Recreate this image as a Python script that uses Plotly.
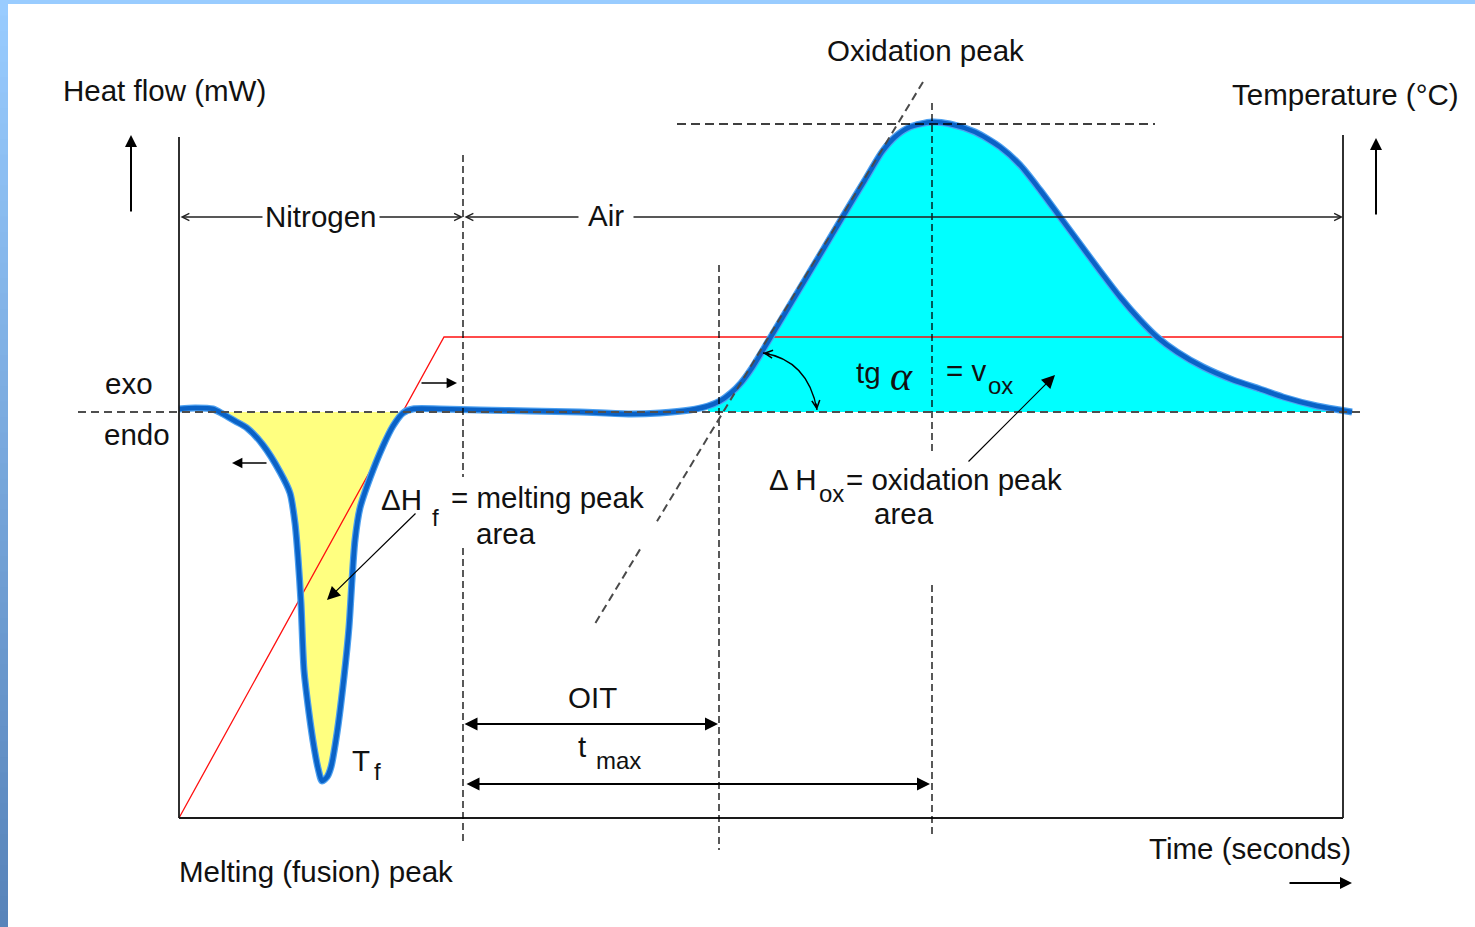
import numpy as np
import plotly.graph_objects as go

# ---------------------------------------------------------------------------
# DSC / OIT schematic: heat-flow signal and furnace temperature programme.
# Time in arbitrary seconds, heat flow in arbitrary mW (0 = baseline, exo up).
# ---------------------------------------------------------------------------
time_s = np.array([
    0, 16, 34, 44, 56, 68, 84, 101, 111, 116, 119, 122, 125, 130, 135, 139,
    143, 148, 152, 158, 165, 170, 173, 176, 181, 191, 204, 214, 224, 234,
    261, 301, 351, 401, 451, 481, 511, 529, 541, 552, 562, 573, 584, 599,
    614, 629, 644, 663, 686, 703, 716, 731, 753, 771, 796, 821, 841, 861,
    881, 901, 921, 941, 961, 978, 998, 1024, 1054, 1081, 1104, 1138, 1161,
    1173,
])
heat_flow = np.array([
    3, 4, 3, -2, -9, -16, -33, -60, -81, -111, -145, -191, -258, -301, -335,
    -356, -369, -365, -355, -321, -265, -215, -168, -128, -96, -66, -34, -14,
    -1, 3, 3, 2, 1, 0, -2, -1, 2, 6, 11, 19, 29, 44, 62, 87, 112, 137, 162,
    194, 232, 260, 275, 285, 290, 288, 280, 265, 247, 222, 195, 168, 141, 115,
    92, 75, 60, 45, 32, 23, 15, 6, 2, 0,
])

# Temperature programme: heating ramp under nitrogen, then isothermal in air
temp_time = [0, 265, 1164]
temp_level = [-406, 75, 75]

# Event times
t_end = 1164          # end of the run (right frame)
t_gas_switch = 284    # nitrogen -> air
t_onset = 540         # oxidation onset (OIT)
t_peak = 753          # oxidation peak maximum
peak_level = 288      # heat flow at the oxidation maximum

# Integration windows for the two peak areas
melt_mask = (time_s >= 34) & (time_s <= 234)
ox_mask = time_s >= 529

FONT = "Liberation Sans"
SIZE = 29.5
SUB = 24
BLUE = "#0A62C6"

fig = go.Figure()

# peak areas
fig.add_trace(go.Scatter(
    x=time_s[melt_mask], y=heat_flow[melt_mask], mode="lines",
    line=dict(width=0, shape="spline", smoothing=0.7),
    fill="tozeroy", fillcolor="#FFFF80", hoverinfo="skip"))
fig.add_trace(go.Scatter(
    x=time_s[ox_mask], y=heat_flow[ox_mask], mode="lines",
    line=dict(width=0, shape="spline", smoothing=0.7),
    fill="tozeroy", fillcolor="#00FFFF", hoverinfo="skip"))

# temperature programme
fig.add_trace(go.Scatter(
    x=temp_time, y=temp_level, mode="lines",
    line=dict(color="#FF1010", width=1.3), hoverinfo="skip"))

# heat-flow signal (soft edge + core)
fig.add_trace(go.Scatter(
    x=time_s, y=heat_flow, mode="lines",
    line=dict(color="#4DA0F0", width=7, shape="spline", smoothing=0.7),
    hoverinfo="skip"))
fig.add_trace(go.Scatter(
    x=time_s, y=heat_flow, mode="lines",
    line=dict(color=BLUE, width=4.6, shape="spline", smoothing=0.7),
    hoverinfo="skip"))

shapes = []


def seg(x0, y0, x1, y1, color="black", width=1.3, dash=None):
    shapes.append(dict(type="line", xref="x", yref="y", x0=x0, y0=y0,
                       x1=x1, y1=y1, layer="above",
                       line=dict(color=color, width=width, dash=dash)))


# baseline
seg(-101, 0, 1186, 0, color="#4E4E4E", width=2.2, dash="8px,5px")

# frame
seg(0, 275, 0, -406, color="#1A1A1A", width=1.8)
seg(0, -406, t_end, -406, color="#1A1A1A", width=1.8)
seg(t_end, 277, t_end, -406, color="#1A1A1A", width=1.8)

# event markers
seg(t_gas_switch, 257, t_gas_switch, -65, dash="7px,4px")
seg(t_gas_switch, -136, t_gas_switch, -433, dash="7px,4px")
seg(t_onset, 147, t_onset, -438, dash="7px,4px")
seg(t_peak, 309, t_peak, -43, dash="7px,4px")
seg(t_peak, -173, t_peak, -423, dash="7px,4px")
seg(498, peak_level, 976, peak_level, width=1.4, dash="9px,5px")

# tangent to the rising oxidation edge
slope = (330 + 215) / (744 - 414)
seg(744, 330, 478, 330 - (744 - 478) * slope, color="#4A4A4A", width=2,
    dash="8px,5px")
seg(461, 330 - (744 - 461) * slope, 414, -215, color="#4A4A4A", width=2,
    dash="8px,5px")

# angle arc between tangent and baseline
shapes.append(dict(type="path", xref="x", yref="y", layer="above",
                   path="M 584 59 Q 629 52 638 2",
                   line=dict(color="black", width=1.3)))

# window frame: light blue top bar, gradient left bar
shapes.append(dict(type="rect", xref="paper", yref="paper", x0=0, x1=1,
                   y0=1 - 4 / 927, y1=1, fillcolor="#99CCFF",
                   line=dict(width=0), layer="above"))
n_strip = 60
c_top = np.array([153, 204, 255])
c_bot = np.array([88, 132, 186])
for i in range(n_strip):
    f = i / (n_strip - 1)
    c = (c_top * (1 - f) + c_bot * f).astype(int)
    shapes.append(dict(type="rect", xref="paper", yref="paper",
                       x0=0, x1=8 / 1475,
                       y0=1 - (i + 1) / n_strip - 0.002, y1=1 - i / n_strip,
                       fillcolor=f"rgb({c[0]},{c[1]},{c[2]})",
                       line=dict(width=0), layer="above"))

annotations = []


def text(x, y, s, size=SIZE, xanchor="center", yanchor="middle", family=FONT,
         bg=None, pad=2):
    a = dict(x=x, y=y, xref="x", yref="y", text=s, showarrow=False,
             xanchor=xanchor, yanchor=yanchor,
             font=dict(family=family, size=size, color="#111111"))
    if bg:
        a.update(bgcolor=bg, borderpad=pad)
    annotations.append(a)


def arrow(x, y, ax, ay, head=2, size=1.0, width=1.5, both=False,
          color="black"):
    a = dict(x=x, y=y, ax=ax, ay=ay, xref="x", yref="y", axref="x",
             ayref="y", text="", showarrow=True, arrowhead=head,
             arrowsize=size, arrowwidth=width, arrowcolor=color)
    if both:
        a.update(arrowside="end+start", startarrowhead=head,
                 startarrowsize=size)
    annotations.append(a)


# gas atmosphere spans
arrow(t_gas_switch, 195, 0, 195, head=5, size=1.1, width=1.3, both=True,
      color="#222222")
arrow(t_end, 195, t_gas_switch, 195, head=5, size=1.1, width=1.3, both=True,
      color="#222222")
text(142, 196, "Nitrogen", bg="white", pad=2)
text(427, 197, "Air", bg="white", pad=9)

# axis direction arrows
arrow(-48, 277, -48, 199, head=2, size=1.2, width=2)
arrow(1197, 274, 1197, 196, head=2, size=1.2, width=2)
arrow(1173, -471, 1109, -471, head=2, size=1.2, width=2)

# heating / cooling side arrows
arrow(53, -51, 89, -51, head=2, size=1.3, width=1.6)
arrow(278, 29, 241, 29, head=2, size=1.3, width=1.6)

# pointers to the peak areas
arrow(148, -188, 238, -100, head=2, size=2.2, width=1.2)
arrow(876, 37, 788, -51, head=2, size=2.2, width=1.2)

# OIT and t_max spans
arrow(t_onset - 1, -312, t_gas_switch, -312, head=2, size=1.3, width=2,
      both=True)
arrow(t_peak - 2, -372, t_gas_switch + 2, -372, head=2, size=1.3, width=2,
      both=True)

# angle arc heads
arrow(584, 59, 592, 58, head=5, size=1.2, width=1.3)
arrow(638, 2, 637, 10, head=5, size=1.2, width=1.3)

# labels
text(-15, 322, "Heat flow (mW)")
text(1166, 318, "Temperature (°C)")
text(746, 362, "Oxidation peak")
text(1071, -436, "Time (seconds)")
text(137, -459, "Melting (fusion) peak")
text(-50, 29, "exo")
text(-42, -22, "endo")

text(200, -87, "ΔH", xanchor="left")
text(251, -105, "f", size=SUB, xanchor="left")
text(270, -85, "= melting peak", xanchor="left")
text(295, -121, "area", xanchor="left")

text(588, -67, "Δ H", xanchor="left")
text(638, -81, "ox", size=SUB, xanchor="left")
text(665, -67, "= oxidation peak", xanchor="left")
text(693, -101, "area", xanchor="left")

text(675, 40, "tg", xanchor="left")
text(722, 36, "<i>α</i>", size=42, family="Liberation Serif")
text(765, 42, "= v", xanchor="left")
text(807, 27, "ox", size=SUB, xanchor="left")

text(413, -285, "OIT")
text(403, -334, "t")
text(415, -348, "max", size=SUB, xanchor="left")
text(182, -348, "T")
text(198, -359, "f", size=SUB)

fig.update_layout(
    width=1475, height=927,
    margin=dict(l=0, r=0, t=0, b=0),
    paper_bgcolor="white", plot_bgcolor="white",
    showlegend=False,
    xaxis=dict(range=[-179, 1296], visible=False, fixedrange=True),
    yaxis=dict(range=[-515, 412], visible=False, fixedrange=True),
    shapes=shapes, annotations=annotations,
)

fig.write_html("out.html", config={"displayModeBar": False})
